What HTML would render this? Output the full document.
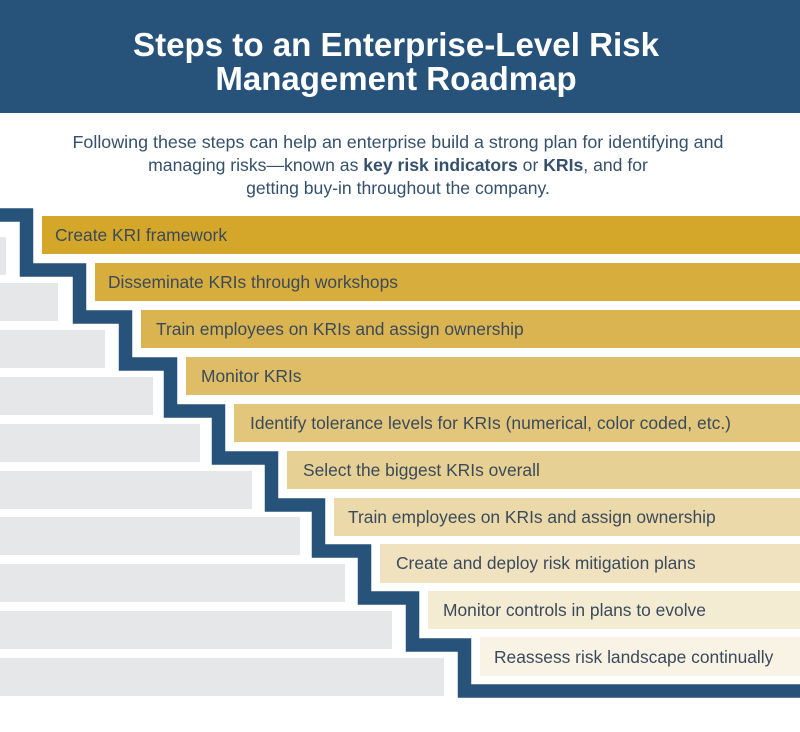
<!DOCTYPE html>
<html><head><meta charset="utf-8"><style>
body{margin:0;width:800px;height:727px;overflow:hidden;background:#fff;font-family:"Liberation Sans",sans-serif}
</style></head><body>
<svg width="800" height="727" xmlns="http://www.w3.org/2000/svg" font-family="Liberation Sans, sans-serif">
<rect x="0" y="0" width="800" height="113" fill="#27527a"/>
<text x="396" y="56" text-anchor="middle" fill="#fff" font-size="33" font-weight="bold" textLength="526" lengthAdjust="spacingAndGlyphs">Steps to an Enterprise-Level Risk</text>
<text x="396" y="90" text-anchor="middle" fill="#fff" font-size="33" font-weight="bold">Management Roadmap</text>
<g fill="#34506c" font-size="17.6" text-anchor="middle">
<text x="398" y="148" textLength="651" lengthAdjust="spacingAndGlyphs">Following these steps can help an enterprise build a strong plan for identifying and</text>
<text x="398" y="171">managing risks—known as <tspan font-weight="bold">key risk indicators</tspan> or <tspan font-weight="bold">KRIs</tspan>, and for</text>
<text x="398" y="194">getting buy-in throughout the company.</text>
</g>
<g fill="#e6e7e9">
<rect x="0" y="237" width="6" height="38"/>
<rect x="0" y="283" width="58" height="38"/>
<rect x="0" y="330" width="105" height="38"/>
<rect x="0" y="377" width="153" height="38"/>
<rect x="0" y="424" width="200" height="38"/>
<rect x="0" y="471" width="252" height="38"/>
<rect x="0" y="517" width="300" height="38"/>
<rect x="0" y="564" width="345" height="38"/>
<rect x="0" y="611" width="392" height="38"/>
<rect x="0" y="658" width="444" height="38"/>
</g>
<polyline fill="none" stroke="#27527a" stroke-width="13.5" stroke-linejoin="miter"
points="0,215 26.5,215 26.5,270 79.5,270 79.5,317 125.5,317 125.5,364 170.5,364 170.5,411 218.5,411 218.5,458 271.5,458 271.5,505 318.5,505 318.5,551 364.5,551 364.5,598 412.5,598 412.5,645 464.5,645 464.5,691 800,691"/>
<g font-size="17.4" fill="#3b4a5a">
<rect x="42" y="216" width="758" height="38" fill="#d4a72a"/><text x="55" y="241">Create KRI framework</text>
<rect x="95" y="263" width="705" height="38" fill="#d7ad3d"/><text x="108" y="288">Disseminate KRIs through workshops</text>
<rect x="141" y="310" width="659" height="38" fill="#dab451"/><text x="156" y="335">Train employees on KRIs and assign ownership</text>
<rect x="186" y="357" width="614" height="38" fill="#debd66"/><text x="201" y="382">Monitor KRIs</text>
<rect x="234" y="404" width="566" height="38" fill="#e2c67c"/><text x="250" y="429" textLength="481" lengthAdjust="spacingAndGlyphs">Identify tolerance levels for KRIs (numerical, color coded, etc.)</text>
<rect x="287" y="451" width="513" height="38" fill="#e7d093"/><text x="303" y="476">Select the biggest KRIs overall</text>
<rect x="334" y="498" width="466" height="38" fill="#ebd9a9"/><text x="348" y="523">Train employees on KRIs and assign ownership</text>
<rect x="380" y="544" width="420" height="39" fill="#f0e2bf"/><text x="396" y="569">Create and deploy risk mitigation plans</text>
<rect x="428" y="591" width="372" height="38" fill="#f4ebd3"/><text x="443" y="616">Monitor controls in plans to evolve</text>
<rect x="480" y="637" width="320" height="39" fill="#f9f3e6"/><text x="494" y="663">Reassess risk landscape continually</text>
</g>
</svg>
</body></html>
